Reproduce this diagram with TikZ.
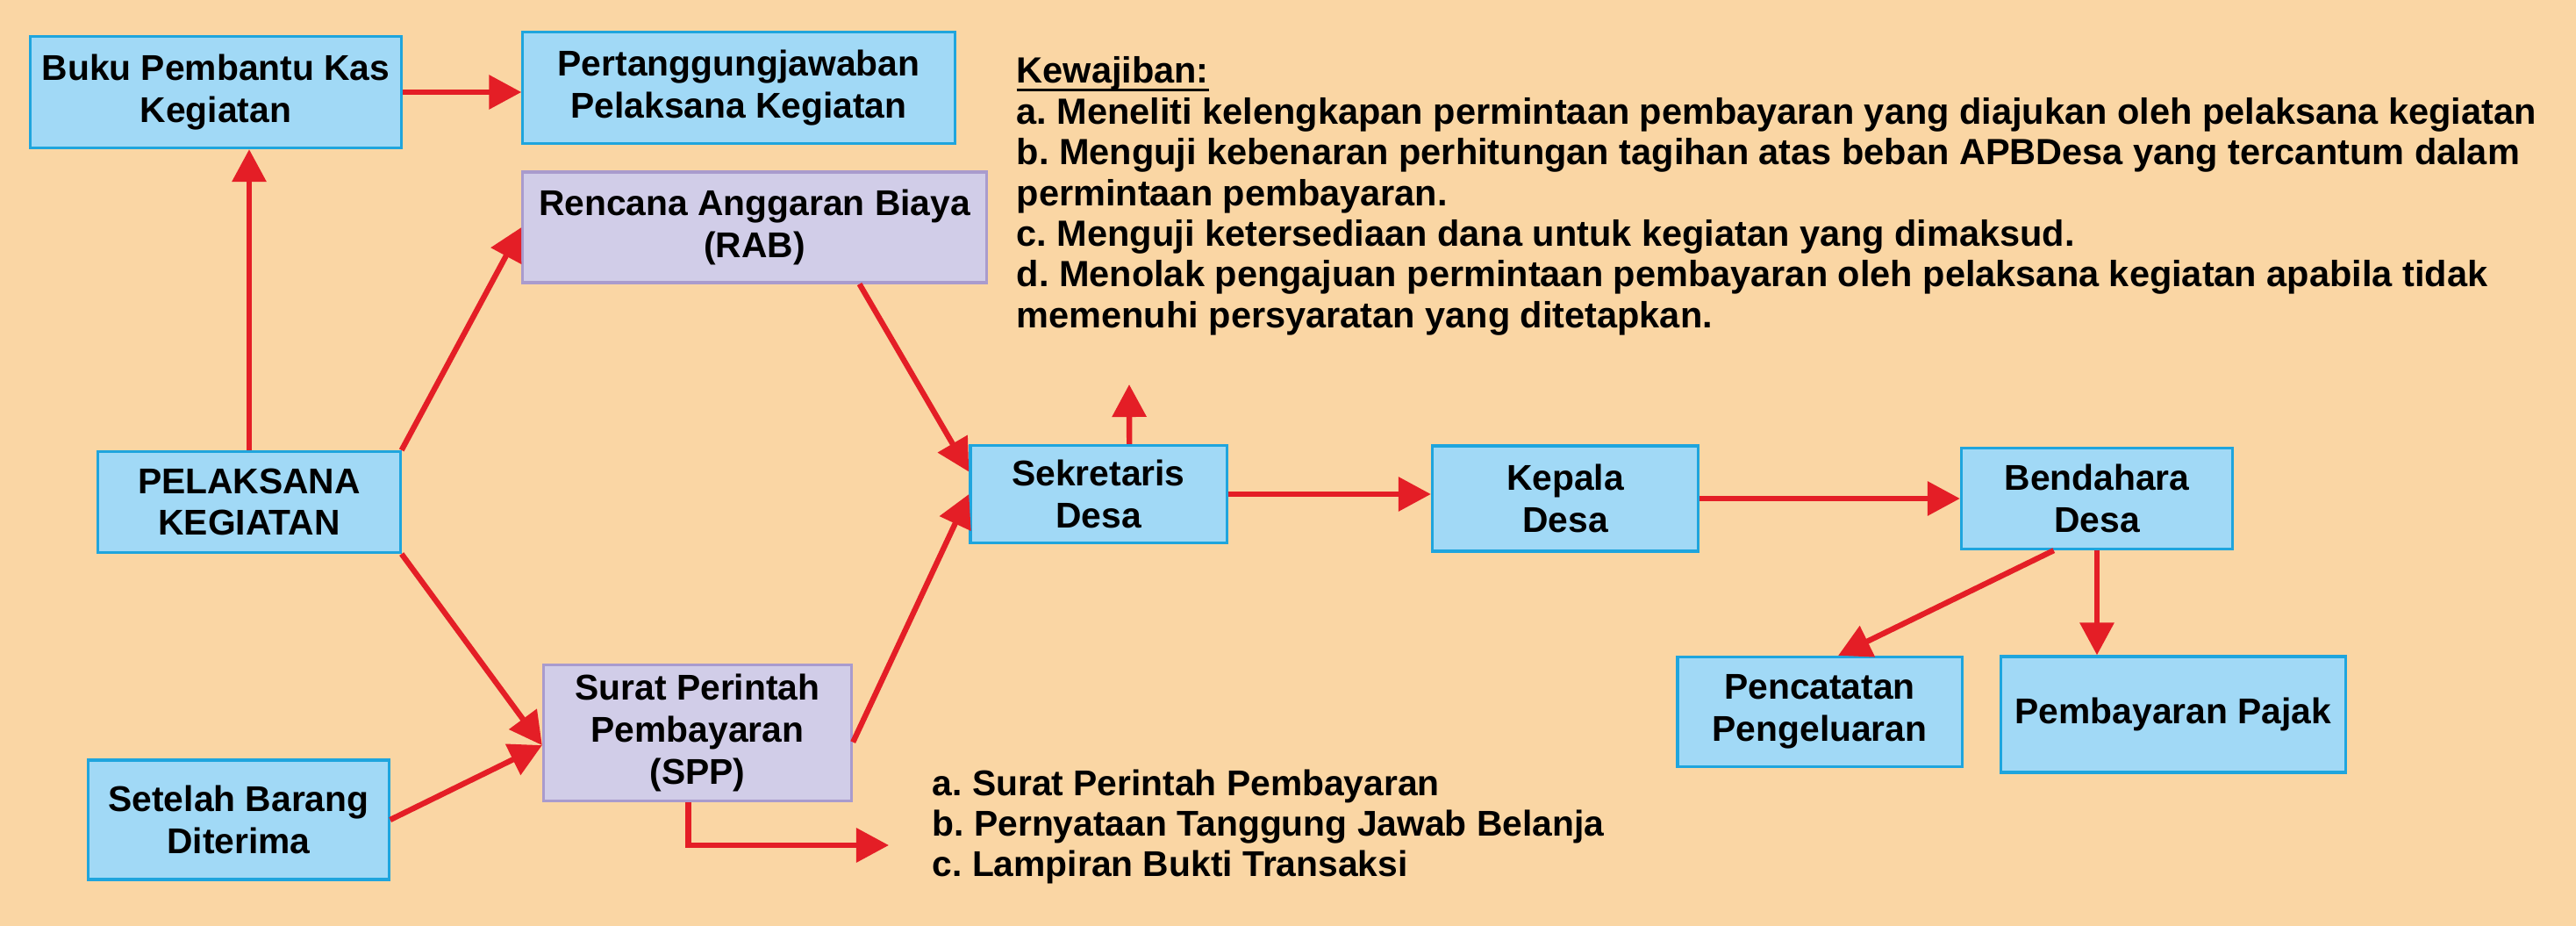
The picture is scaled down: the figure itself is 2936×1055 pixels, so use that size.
\documentclass[tikz,border=0pt]{standalone}
\usepackage{fontspec}
\setmainfont{Liberation Sans}
\usepackage{xcolor}
\usetikzlibrary{calc, arrows.meta}

\definecolor{bgpeach}{HTML}{FAD6A4}
\definecolor{boxblue}{HTML}{A1D9F6}
\definecolor{lineblue}{HTML}{1FA5DD}
\definecolor{boxlilac}{HTML}{D1CDE8}
\definecolor{linelilac}{HTML}{A99BCD}
\definecolor{arrowred}{HTML}{E41E26}

% thick underline for the heading
\newcommand{\headul}[1]{\setbox0\hbox{#1}\rlap{\raisebox{-2.6pt}{\rule{\wd0}{0.8pt}}}\box0}

\tikzset{
  bluebox/.style={draw=lineblue, fill=boxblue, line width=0.9pt, align=center,
    inner sep=0pt, font=\fontsize{11.6}{13.6}\selectfont\bfseries},
  lilacbox/.style={bluebox, draw=linelilac, fill=boxlilac},
  redarrow/.style={draw=arrowred, line width=1.8pt,
    -{Triangle[length=0.37cm, width=0.38cm]}},
  plaintext/.style={align=left, inner sep=0pt, anchor=north west,
    font=\fontsize{11.8}{13.2}\selectfont\bfseries}
}

\begin{document}
\frenchspacing
\begin{tikzpicture}[x=0.01cm, y=-0.01cm]
  % Background
  \fill[bgpeach] (0,0) rectangle (2936,1055);
  \useasboundingbox (0,0) rectangle (2936,1055);

  % Boxes
  \node[bluebox, minimum width=4.23cm, minimum height=1.27cm] (buku) at (246,105) {Buku Pembantu Kas\\Kegiatan};
  \node[bluebox, minimum width=4.92cm, minimum height=1.27cm] (perta) at (842,100) {Pertanggungjawaban\\Pelaksana Kegiatan};
  \node[lilacbox, minimum width=5.28cm, minimum height=1.26cm] (rab) at (860,259) {Rencana Anggaran Biaya\\(RAB)};
  \node[bluebox, minimum width=3.44cm, minimum height=1.15cm] (pel) at (284,572) {PELAKSANA\\KEGIATAN};
  \node[bluebox, minimum width=3.42cm, minimum height=1.36cm] (setelah) at (272,934) {Setelah Barang\\Diterima};
  \node[lilacbox, minimum width=3.51cm, minimum height=1.55cm] (spp) at (795,835) {Surat Perintah\\Pembayaran\\(SPP)};
  \node[bluebox, minimum width=2.92cm, minimum height=1.11cm] (sek) at (1252,563) {Sekretaris\\Desa};
  \node[bluebox, minimum width=3.03cm, minimum height=1.20cm] (kep) at (1784,568) {Kepala\\Desa};
  \node[bluebox, minimum width=3.09cm, minimum height=1.15cm] (bend) at (2390,568) {Bendahara\\Desa};
  \node[bluebox, minimum width=3.24cm, minimum height=1.25cm] (penc) at (2074,811) {Pencatatan\\Pengeluaran};
  \node[bluebox, minimum width=3.92cm, minimum height=1.32cm] (pajak) at (2477,814) {Pembayaran Pajak};

  % Free ends
  \coordinate (up) at (1287,438);
  \coordinate (lst) at (1013,963);

  % Arrows
  \draw[redarrow] (buku.east) -- (buku.east -| perta.west);
  \draw[redarrow] (pel.north) -- (pel.north |- buku.south);
  \draw[redarrow] (pel.north east) -- (rab.west);
  \draw[redarrow] (pel.south east) -- ([yshift=-4pt]spp.west);
  \draw[redarrow] (setelah.east) -- ([yshift=-4pt]spp.west);
  \draw[redarrow] ([xshift=34pt]rab.south) -- ([yshift=-9pt]sek.north west);
  \draw[redarrow] ([yshift=-3pt]spp.east) -- (sek.west);
  \draw[redarrow] ([xshift=10pt]sek.north) -- (up);
  \draw[redarrow] (sek.east) -- (sek.east -| kep.west);
  \draw[redarrow] (kep.east) -- (bend.west);
  \draw[redarrow] ([xshift=-14pt]bend.south) -- ([xshift=6pt]penc.north);
  \draw[redarrow] (bend.south) -- (bend.south |- pajak.north);
  \draw[redarrow] ([xshift=-3pt]spp.south) |- (lst);

  % Texts
  \node[plaintext] (kewajiban) at (1158,64) {\headul{Kewajiban:}\\
    a. Meneliti kelengkapan permintaan pembayaran yang diajukan oleh pelaksana kegiatan\\
    b. Menguji kebenaran perhitungan tagihan atas beban APBDesa yang tercantum dalam\\
    permintaan pembayaran.\\
    c. Menguji ketersediaan dana untuk kegiatan yang dimaksud.\\
    d. Menolak pengajuan permintaan pembayaran oleh pelaksana kegiatan apabila tidak\\
    memenuhi persyaratan yang ditetapkan.};
  \node[plaintext, font=\fontsize{11.6}{13.1}\selectfont\bfseries] (berkas) at (1062,876) {a. Surat Perintah Pembayaran\\
    b. Pernyataan Tanggung Jawab Belanja\\
    c. Lampiran Bukti Transaksi};
\end{tikzpicture}
\end{document}
